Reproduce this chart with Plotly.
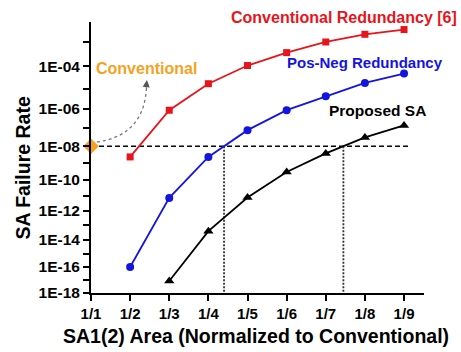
import numpy as np
import plotly.graph_objects as go

# ---------------- data ----------------
x_labels = ["1/1", "1/2", "1/3", "1/4", "1/5", "1/6", "1/7", "1/8", "1/9"]
x_pos = [1, 2, 3, 4, 5, 6, 7, 8, 9]

conv_red_x = [2, 3, 4, 5, 6, 7, 8, 9]
conv_red = [2.4e-9, 8.7e-7, 1.7e-5, 1.1e-4, 3.8e-4, 1.0e-3, 1.95e-3, 2.9e-3]

posneg_x = [2, 3, 4, 5, 6, 7, 8, 9]
posneg = [1e-16, 7e-12, 2.4e-9, 7.8e-8, 8.8e-7, 4.3e-6, 1.85e-5, 4.9e-5]

proposed_x = [3, 4, 5, 6, 7, 8, 9]
proposed = [8.7e-18, 4e-14, 7.4e-12, 3e-10, 3.85e-9, 3.1e-8, 1.4e-7]

conventional_x = [1]
conventional = [1e-8]

threshold = 1e-8
cross_x = [4.4, 7.45]          # where the curves reach the threshold
threshold_end_x = 9.15

tick_exps = list(range(3, 19))  # decades shown on the axis


# axis transform used by the original chart (compressed log scale)
def ty(v):
    return -(-np.log10(np.asarray(v, dtype=float))) ** 0.6


RED = "#E8141C"
BLUE = "#1414E0"
BLACK = "#000000"
ORANGE = "#F5A21F"
FONT = "Liberation Sans, Arial, sans-serif"

fig = go.Figure()

# threshold dashed line
fig.add_trace(go.Scatter(x=[1, threshold_end_x], y=ty([threshold, threshold]),
                         mode="lines", line=dict(color="black", width=1.6, dash="5px,3px"),
                         hoverinfo="skip", showlegend=False))
# vertical dotted lines
for cx in cross_x:
    fig.add_trace(go.Scatter(x=[cx, cx], y=[ty(threshold), -(18 ** 0.6)],
                             mode="lines", line=dict(color="#333333", width=1.8, dash="2px,1.5px"),
                             hoverinfo="skip", showlegend=False))

fig.add_trace(go.Scatter(x=conv_red_x, y=ty(conv_red), mode="lines+markers",
                         line=dict(color=RED, width=1.8),
                         marker=dict(symbol="square", size=7, color=RED),
                         showlegend=False))
fig.add_trace(go.Scatter(x=posneg_x, y=ty(posneg), mode="lines+markers",
                         line=dict(color=BLUE, width=1.8),
                         marker=dict(symbol="circle", size=8, color=BLUE),
                         showlegend=False))
fig.add_trace(go.Scatter(x=proposed_x, y=ty(proposed), mode="lines+markers",
                         line=dict(color=BLACK, width=1.8),
                         marker=dict(symbol="triangle-up", size=9, color=BLACK),
                         showlegend=False, cliponaxis=False))
fig.add_trace(go.Scatter(x=conventional_x, y=ty(conventional), mode="markers",
                         marker=dict(symbol="diamond", size=12, color=ORANGE),
                         showlegend=False, cliponaxis=False))

# curved dashed arrow from "Conventional" point
fig.add_shape(type="path", xref="x", yref="y",
              path="M 1.15,-3.42 Q 2.40,-3.32 2.42,-2.56",
              line=dict(color="#777777", width=1.3, dash="dot"))
fig.add_annotation(x=2.43, y=-2.50, xref="x", yref="y", ax=-1, ay=9,
                   text="", showarrow=True, arrowhead=2, arrowsize=1.1,
                   arrowwidth=1.3, arrowcolor="#555555")

tickvals = [float(ty(10.0 ** -k)) for k in tick_exps]
ticktext = [("1E-%02d" % k) if k % 2 == 0 else "" for k in tick_exps]

fig.update_layout(
    width=461, height=352,
    margin=dict(l=91, r=37, t=22, b=59),
    paper_bgcolor="white", plot_bgcolor="white",
    font=dict(family=FONT, color="black"),
    xaxis=dict(range=[1, 9.51], tickvals=x_pos, ticktext=x_labels,
               showgrid=False, zeroline=False, showline=True,
               linecolor="black", linewidth=2, ticks="outside",
               ticklen=6, tickwidth=1.8, tickcolor="black",
               tickfont=dict(size=15, family=FONT, weight="bold")),
    yaxis=dict(range=[-(18 ** 0.6), -1.636], tickvals=tickvals, ticktext=ticktext,
               showgrid=False, zeroline=False, showline=True,
               linecolor="black", linewidth=2, ticks="outside",
               ticklen=6, tickwidth=1.8, tickcolor="black",
               tickfont=dict(size=15.5, family=FONT, weight="bold")),
)

ann = [
    dict(text="<b>SA Failure Rate</b>", x=-0.207, y=0.463, textangle=-90,
         font=dict(size=19.5, color="black")),
    dict(text="<b>SA1(2) Area (Normalized to Conventional)</b>", x=0.495, y=-0.159,
         font=dict(size=19.5, color="black")),
    dict(text="<b>Conventional Redundancy [6]</b>", x=0.761, y=1.018,
         font=dict(size=16, color=RED)),
    dict(text="<b>Pos-Neg Redundancy</b>", x=0.824, y=0.852,
         font=dict(size=15, color=BLUE)),
    dict(text="<b>Proposed SA</b>", x=0.860, y=0.672,
         font=dict(size=15.5, color=BLACK)),
    dict(text="<b>Conventional</b>", x=0.168, y=0.830,
         font=dict(size=16, color=ORANGE)),
]
for a in ann:
    fig.add_annotation(xref="paper", yref="paper", showarrow=False,
                       xanchor="center", yanchor="middle",
                       font_family=FONT, **{k: v for k, v in a.items()})

fig.write_html("out.html")
